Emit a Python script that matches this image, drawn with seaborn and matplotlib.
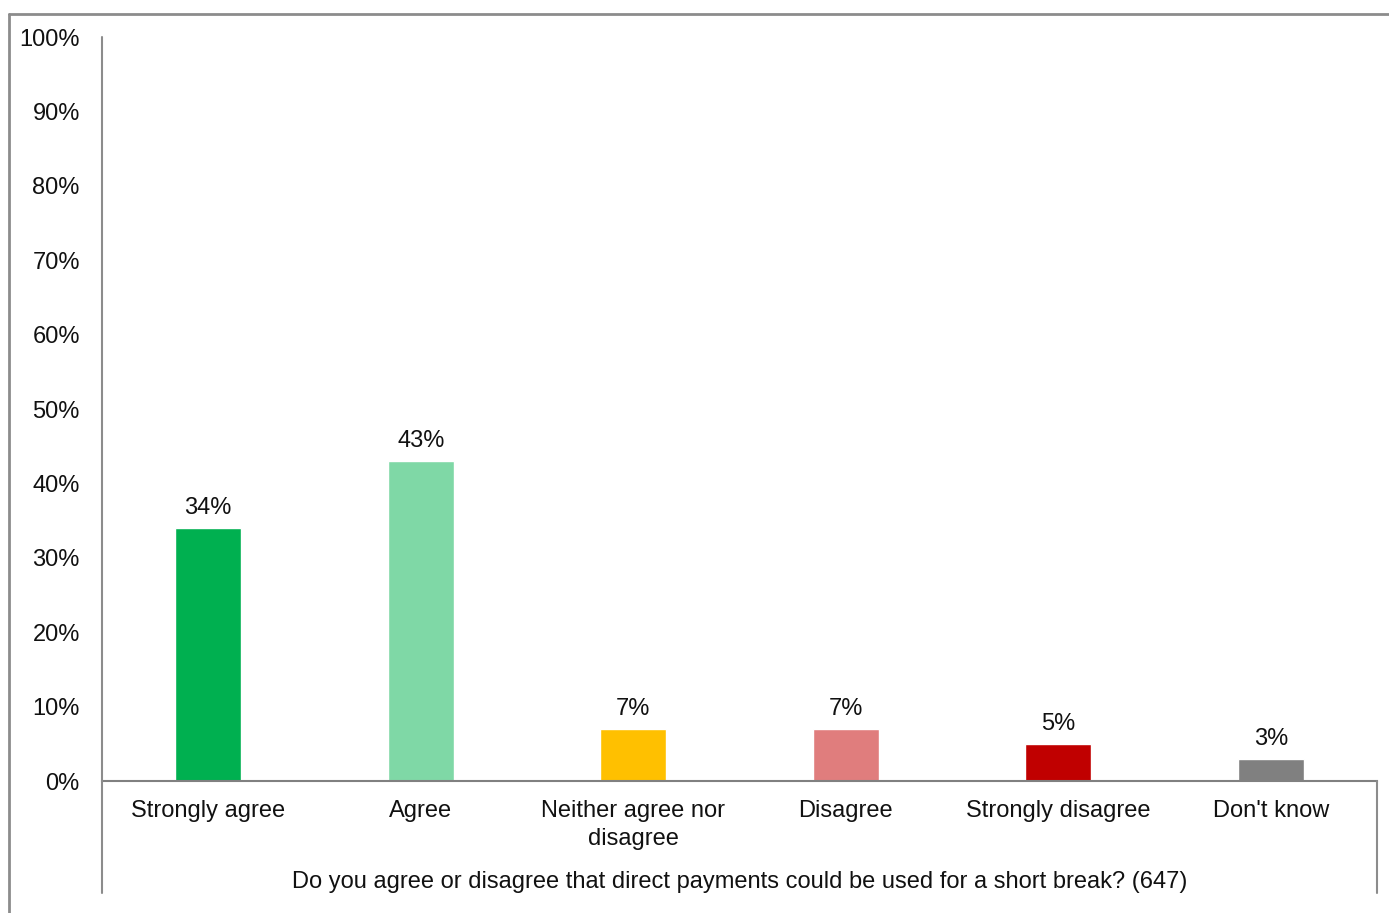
import matplotlib.pyplot as plt
import pandas as pd
import seaborn as sns
from matplotlib.lines import Line2D

categories = ["Strongly agree", "Agree", "Neither agree nor\ndisagree",
              "Disagree", "Strongly disagree", "Don't know"]
values = [34, 43, 7, 7, 5, 3]
colors = ["#00B050", "#7FD8A6", "#FFC000", "#E07D7D", "#C00000", "#808080"]
y_ticks = [0, 10, 20, 30, 40, 50, 60, 70, 80, 90, 100]
x_title = "Do you agree or disagree that direct payments could be used for a short break? (647)"

sns.set_theme(style="white")
plt.rcParams["font.family"] = ["Liberation Sans", "DejaVu Sans"]

W, H = 1389, 913
FS = 17
fig = plt.figure(figsize=(W / 100, H / 100), dpi=100)
ax = fig.add_axes([102 / W, 1 - 781 / H, (1377 - 102) / W, (781 - 37) / H])

df = pd.DataFrame({"category": categories, "value": values})
sns.barplot(data=df, x="category", y="value", hue="category", palette=colors,
            legend=False, width=0.31, saturation=1, ax=ax)

for i, v in enumerate(values):
    ax.text(i, v + 1.2, f"{v}%", ha="center", va="bottom", fontsize=FS, color="#111111")

ax.set_ylim(0, 100)
ax.set_xlim(-0.5, len(categories) - 0.5)
ax.set_yticks(y_ticks)
ax.set_yticklabels([f"{t}%" for t in y_ticks], fontsize=FS, color="#111111")
ax.tick_params(axis="y", length=0, pad=16)
ax.tick_params(axis="x", length=0, pad=14, labelsize=FS, labelcolor="#111111")
for lbl in ax.get_xticklabels():
    lbl.set_linespacing(1.35)
ax.set_xlabel(x_title, fontsize=FS, color="#111111", labelpad=15)
ax.set_ylabel("")

for side in ["top", "right"]:
    ax.spines[side].set_visible(False)
ax.spines["bottom"].set_color("#808080")
ax.spines["bottom"].set_linewidth(1.5)
ax.spines["left"].set_visible(False)

# axis lines that run down into the category area
gray = "#8c8c8c"
fig.add_artist(Line2D([102 / W, 102 / W], [1 - 893 / H, 1 - 37 / H],
                      color=gray, lw=1.5))
fig.add_artist(Line2D([1377 / W, 1377 / W], [1 - 893 / H, 1 - 781 / H],
                      color=gray, lw=1.5))

# outer chart frame
fig.add_artist(Line2D([9 / W, 9 / W], [0, 1 - 14 / H], color=gray, lw=2))
fig.add_artist(Line2D([9 / W, 1], [1 - 14 / H, 1 - 14 / H], color=gray, lw=2))

fig.savefig("out.png", dpi=100)
